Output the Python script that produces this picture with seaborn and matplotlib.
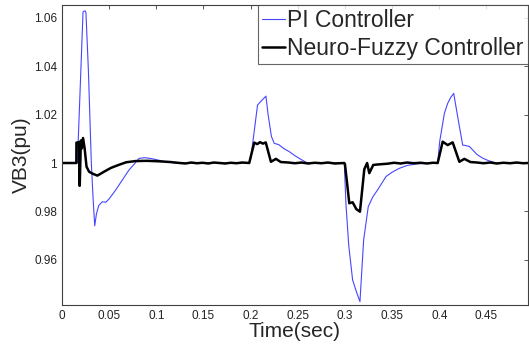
import matplotlib

matplotlib.use("Agg")
import matplotlib.pyplot as plt
import pandas as pd
import seaborn as sns

# PI controller response (thin blue)
t_pi = [0, 0.0163, 0.0193, 0.0223, 0.0245, 0.0254, 0.028, 0.0311, 0.033, 0.0347,
        0.0365, 0.039, 0.0428, 0.0464, 0.050, 0.057, 0.064, 0.071, 0.0765, 0.0817,
        0.088, 0.095, 0.102, 0.110, 0.120, 0.1985, 0.2002, 0.2073, 0.211, 0.2162,
        0.2185, 0.222, 0.225, 0.2297, 0.235, 0.2409, 0.247, 0.2533, 0.260, 0.2993,
        0.301, 0.304, 0.3081, 0.312, 0.3159, 0.3198, 0.3247, 0.3295, 0.3346, 0.3435,
        0.350, 0.3576, 0.366, 0.3754, 0.390, 0.3983, 0.4005, 0.4054, 0.4089, 0.412,
        0.4153, 0.420, 0.4248, 0.428, 0.432, 0.440, 0.446, 0.452, 0.460, 0.494]
v_pi = [1.0, 1.0, 1.031, 1.0624, 1.0628, 1.062, 1.038, 1.0, 0.985, 0.9741,
        0.979, 0.9825, 0.984, 0.9838, 0.9852, 0.9889, 0.993, 0.9971, 0.9995, 1.0019,
        1.0022, 1.0018, 1.0012, 1.0005, 1.0, 1.0, 1.002, 1.0239, 1.0255, 1.0276,
        1.02, 1.011, 1.0081, 1.0076, 1.006, 1.0047, 1.003, 1.0015, 1.0, 1.0,
        0.9834, 0.966, 0.9518, 0.947, 0.9428, 0.9682, 0.982, 0.986, 0.9889, 0.9944,
        0.9962, 0.9978, 0.999, 0.9996, 1.0, 1.0, 1.009, 1.0205, 1.0246, 1.027,
        1.0287, 1.018, 1.0074, 1.0072, 1.0068, 1.0035, 1.002, 1.001, 1.0, 1.0]

# Neuro-fuzzy controller response (thick black)
t_nf = [0, 0.0152, 0.0153, 0.0178, 0.0180, 0.0186, 0.0188, 0.0200, 0.0210, 0.0223,
        0.0240, 0.0260, 0.0287, 0.0330, 0.0375, 0.045, 0.052, 0.060, 0.068, 0.078,
        0.090, 0.103, 0.115, 0.125, 0.131, 0.137, 0.143, 0.149, 0.155, 0.161,
        0.167, 0.173, 0.179, 0.185, 0.191, 0.1985, 0.2038, 0.2070, 0.2100, 0.2130,
        0.2160, 0.2215, 0.2268, 0.2320, 0.2400, 0.247, 0.254, 0.261, 0.268, 0.275,
        0.282, 0.289, 0.2993, 0.3000, 0.3046, 0.3081, 0.3120, 0.3159, 0.3205, 0.3235,
        0.3258, 0.3300, 0.3350, 0.3450, 0.352, 0.359, 0.366, 0.373, 0.380, 0.387,
        0.393, 0.3983, 0.4036, 0.4089, 0.4142, 0.4213, 0.4266, 0.4330, 0.4400, 0.447,
        0.454, 0.461, 0.468, 0.475, 0.482, 0.489, 0.494]
v_nf = [1.0, 1.0, 1.0084, 1.0086, 1.0082, 0.9906, 0.9906, 1.0093, 1.006, 1.0103,
        1.006, 0.9985, 0.9964, 0.9955, 0.9948, 0.9965, 0.998, 0.9992, 1.0003, 1.0008,
        1.0009, 1.0007, 1.0004, 1.0, 0.9998, 1.0002, 0.9999, 1.0001, 0.9998, 1.0002,
        1.0, 0.9998, 1.0001, 0.9999, 1.0002, 1.0, 1.0084, 1.0078, 1.0086, 1.008,
        1.0085, 1.0005, 1.0017, 1.0004, 1.0002, 0.9999, 1.0002, 0.9998, 1.0001, 0.9999,
        1.0002, 0.9998, 1.0, 0.9995, 0.9834, 0.9838, 0.981, 0.9799, 0.9974, 1.0,
        0.9958, 0.9992, 0.9994, 0.9997, 1.0001, 0.9998, 1.0002, 0.9999, 1.0001, 0.9998,
        1.0001, 1.0, 1.0088, 1.0074, 1.0085, 1.0005, 1.0017, 1.0004, 1.0002, 0.9999,
        1.0002, 0.9998, 1.0001, 0.9999, 1.0002, 0.9999, 1.0]

x_ticks = [0, 0.05, 0.1, 0.15, 0.2, 0.25, 0.3, 0.35, 0.4, 0.45]
x_labels = ["0", "0.05", "0.1", "0.15", "0.2", "0.25", "0.3", "0.35", "0.4", "0.45"]
y_ticks = [0.96, 0.98, 1.0, 1.02, 1.04, 1.06]
y_labels = ["0.96", "0.98", "1", "1.02", "1.04", "1.06"]

sns.set_style("white")
plt.rcParams["font.family"] = ["Liberation Sans", "DejaVu Sans"]

df_pi = pd.DataFrame({"t": t_pi, "v": v_pi})
df_nf = pd.DataFrame({"t": t_nf, "v": v_nf})

fig = plt.figure(figsize=(5.29, 3.47), dpi=100)
ax = fig.add_axes([0.1172, 0.121, 0.8808, 0.8646])

sns.lineplot(data=df_pi, x="t", y="v", sort=False, estimator=None,
             color="#4646ff", lw=0.8, label="PI Controller", ax=ax)
sns.lineplot(data=df_nf, x="t", y="v", sort=False, estimator=None,
             color="black", lw=1.8, label="Neuro-Fuzzy Controller", ax=ax)

ax.set_xlim(0, 0.494)
ax.set_ylim(0.9414, 1.0652)
ax.set_xticks(x_ticks, x_labels)
ax.set_yticks(y_ticks, y_labels)
ax.tick_params(direction="in", length=3, width=0.6, labelsize=8.5,
               top=True, right=True, colors="#404040", labelcolor="#222222")
for sp in ax.spines.values():
    sp.set_color("#404040")
    sp.set_linewidth(0.8)

ax.set_xlabel("Time(sec)", fontsize=15, labelpad=0)
ax.set_ylabel("VB3(pu)", fontsize=15, labelpad=2)

leg = ax.legend(loc="upper right", fontsize=16.5, frameon=True, fancybox=False,
                borderaxespad=0, handlelength=1.0, handletextpad=0.12,
                borderpad=0.18, labelspacing=0.2)
leg.get_frame().set_edgecolor("#404040")
leg.get_frame().set_linewidth(0.8)

fig.savefig("out.png", dpi=100)
